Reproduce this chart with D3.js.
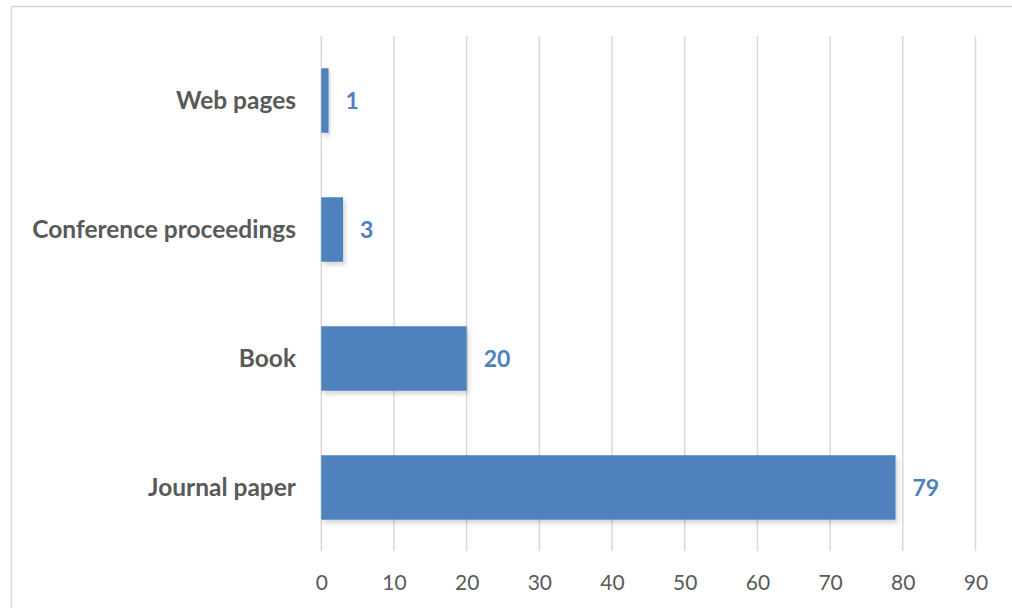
<!DOCTYPE html>
<html><head><meta charset="utf-8">
<script src="https://cdn.jsdelivr.net/npm/d3@7"></script>
<style>body{margin:0;background:#fff}svg{display:block}</style>
</head><body>
<svg id="c" width="1012" height="608"></svg>
<script>
const categories = ["Web pages", "Conference proceedings", "Book", "Journal paper"];
const values = [1, 3, 20, 79];
const xTicks = [0, 10, 20, 30, 40, 50, 60, 70, 80, 90];

const svg = d3.select("#c");
const font = "Lato, 'Open Sans', sans-serif";

const defs = svg.append("defs");
const f = defs.append("filter").attr("id","sh").attr("x","-10%").attr("y","-10%").attr("width","130%").attr("height","140%");
f.append("feDropShadow").attr("dx",2).attr("dy",3).attr("stdDeviation",2.5).attr("flood-color","#000").attr("flood-opacity",0.18);

svg.append("rect").attr("x",11.5).attr("y",6.5).attr("width",1100).attr("height",700)
  .attr("fill","none").attr("stroke","#d9d9d9").attr("stroke-width",1.5);

const x = d3.scaleLinear().domain([0, 90]).range([321.3, 975.5]);
const y = d3.scaleBand().domain(categories).range([36, 552]).paddingInner(0.5).paddingOuter(0.25);

const grid = svg.append("g");
grid.selectAll("line").data(xTicks).join("line")
  .attr("x1", d => x(d)).attr("x2", d => x(d))
  .attr("y1", 36).attr("y2", 551)
  .attr("stroke", "#d9d9d9").attr("stroke-width", 1.5);

svg.append("g").selectAll("rect").data(values).join("rect")
  .attr("x", x(0)).attr("y", (d,i) => y(categories[i]))
  .attr("width", d => x(d) - x(0)).attr("height", y.bandwidth())
  .attr("fill", "#4f81bd").attr("filter","url(#sh)");

svg.append("g").selectAll("text").data(values).join("text")
  .attr("x", d => x(d) + 17).attr("y", (d,i) => y(categories[i]) + y.bandwidth()/2)
  .attr("dy", "0.35em")
  .attr("font-family", font).attr("font-weight", "bold").attr("font-size", 23)
  .attr("fill", "#4f81bd").text(d => d);

svg.append("g").selectAll("text").data(categories).join("text")
  .attr("x", 296).attr("y", d => y(d) + y.bandwidth()/2)
  .attr("dy", "0.35em").attr("text-anchor", "end")
  .attr("font-family", font).attr("font-weight", "bold").attr("font-size", 24.5)
  .attr("fill", "#595959").text(d => d);

const xAxis = svg.append("g").attr("transform", "translate(0,583)")
  .call(d3.axisBottom(x).tickValues(xTicks).tickSize(0).tickPadding(0));
xAxis.select(".domain").remove();
xAxis.selectAll("text").attr("dy","0.35em").attr("y",0)
  .attr("font-family", font).attr("font-size", 21).attr("fill", "#595959");
</script>
</body></html>
